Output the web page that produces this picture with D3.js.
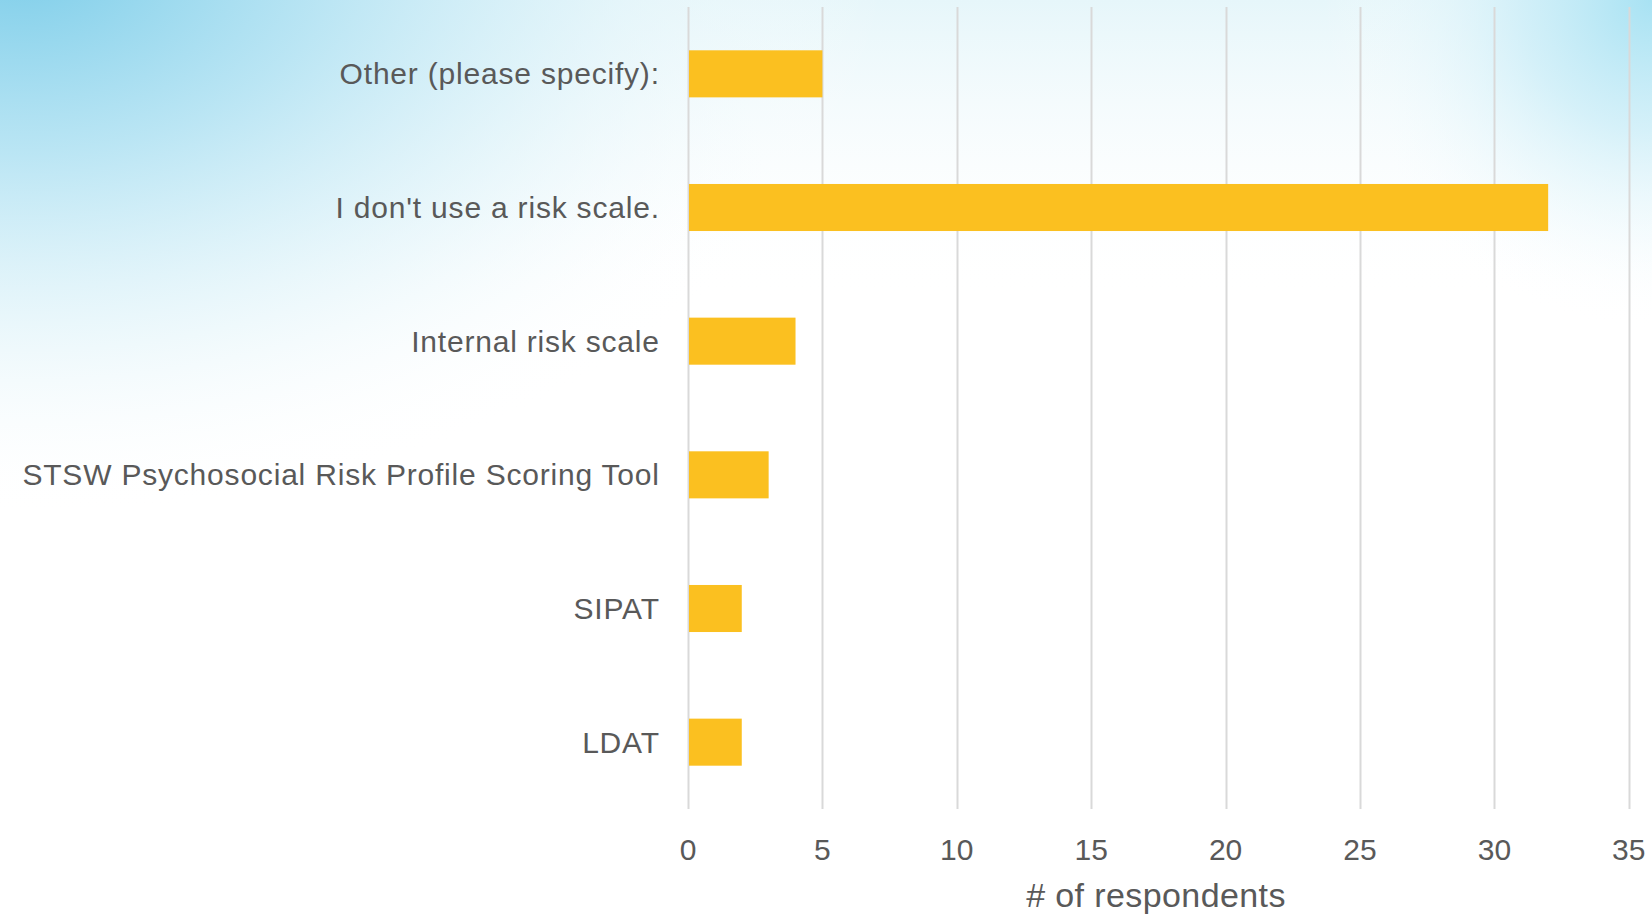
<!DOCTYPE html>
<html>
<head>
<meta charset="utf-8">
<script src="https://cdn.jsdelivr.net/npm/d3@7"></script>
<style>
  html, body { margin: 0; padding: 0; background: #ffffff; }
  svg { display: block; }
  text { font-family: "Liberation Sans", Arial, sans-serif; }
</style>
</head>
<body>
<svg id="chart" width="1652" height="915"></svg>
<script>
const categories = [
  "Other (please specify):",
  "I don't use a risk scale.",
  "Internal risk scale",
  "STSW Psychosocial Risk Profile Scoring Tool",
  "SIPAT",
  "LDAT"
];
const respondents = [5, 32, 4, 3, 2, 2];
const xTicks = [0, 5, 10, 15, 20, 25, 30, 35];
const xTitle = "# of respondents";

const W = 1652, H = 915;
const margin = { left: 688, right: 23, top: 7, bottom: 106 };

const svg = d3.select("#chart");
const defs = svg.append("defs");

// background gradients
const g1 = defs.append("radialGradient").attr("id", "bgTL")
  .attr("gradientUnits", "userSpaceOnUse")
  .attr("cx", 20).attr("cy", -40).attr("r", 620)
  .attr("gradientTransform", "translate(20,-40) scale(1.4,0.9) translate(-20,40)");
g1.append("stop").attr("offset", "0").attr("stop-color", "#7ccde9").attr("stop-opacity", 1);
g1.append("stop").attr("offset", "0.35").attr("stop-color", "#b4e3f3").attr("stop-opacity", 0.9);
g1.append("stop").attr("offset", "0.7").attr("stop-color", "#e4f5fa").attr("stop-opacity", 0.6);
g1.append("stop").attr("offset", "1").attr("stop-color", "#ffffff").attr("stop-opacity", 0);

const g2 = defs.append("radialGradient").attr("id", "bgTR")
  .attr("gradientUnits", "userSpaceOnUse")
  .attr("cx", 1652).attr("cy", 0).attr("r", 330);
g2.append("stop").attr("offset", "0").attr("stop-color", "#a8e2f3").attr("stop-opacity", 1);
g2.append("stop").attr("offset", "0.4").attr("stop-color", "#cdeef8").attr("stop-opacity", 0.8);
g2.append("stop").attr("offset", "1").attr("stop-color", "#ffffff").attr("stop-opacity", 0);

const g3 = defs.append("linearGradient").attr("id", "bgTop")
  .attr("x1", 0).attr("y1", 0).attr("x2", 0).attr("y2", 1);
g3.append("stop").attr("offset", "0").attr("stop-color", "#e6f6fa").attr("stop-opacity", 1);
g3.append("stop").attr("offset", "0.55").attr("stop-color", "#ffffff").attr("stop-opacity", 0);

svg.append("rect").attr("width", W).attr("height", H).attr("fill", "#ffffff");
svg.append("rect").attr("width", W).attr("height", H * 0.6).attr("fill", "url(#bgTop)");
svg.append("rect").attr("width", W).attr("height", H).attr("fill", "url(#bgTL)");
svg.append("rect").attr("width", W).attr("height", H).attr("fill", "url(#bgTR)");

const x = d3.scaleLinear().domain([0, 35]).range([margin.left, W - margin.right - 0.2]);
const y = d3.scaleBand().domain(categories).range([margin.top, H - margin.bottom]).padding(0);
const barH = y.bandwidth() * 0.352;

// gridlines
svg.append("g").selectAll("line").data(xTicks).join("line")
  .attr("x1", d => Math.round(x(d)) + 0.5).attr("x2", d => Math.round(x(d)) + 0.5)
  .attr("y1", margin.top).attr("y2", H - margin.bottom)
  .attr("stroke", "#d9d9d9").attr("stroke-width", 2);

// bars
svg.append("g").selectAll("rect").data(categories).join("rect")
  .attr("x", x(0) + 1)
  .attr("y", d => y(d) + (y.bandwidth() - barH) / 2)
  .attr("width", (d, i) => x(respondents[i]) - x(0) - 1)
  .attr("height", barH)
  .attr("fill", "#fbc020");

// category labels
const ls = 0.8;
svg.append("g").selectAll("text").data(categories).join("text")
  .attr("x", 659 + ls)
  .attr("y", d => y(d) + y.bandwidth() / 2)
  .attr("dy", "0.35em")
  .attr("text-anchor", "end")
  .attr("font-size", 30)
  .attr("letter-spacing", ls)
  .attr("fill", "#595959")
  .text(d => d);

// x tick labels
svg.append("g").selectAll("text").data(xTicks).join("text")
  .attr("x", d => x(d))
  .attr("y", 860)
  .attr("text-anchor", "middle")
  .attr("font-size", 30)
  .attr("fill", "#595959")
  .text(d => d);

// axis title
svg.append("text")
  .attr("x", 1156)
  .attr("y", 906.5)
  .attr("text-anchor", "middle")
  .attr("font-size", 34)
  .attr("letter-spacing", 0.4)
  .attr("fill", "#595959")
  .text(xTitle);
</script>
</body>
</html>
